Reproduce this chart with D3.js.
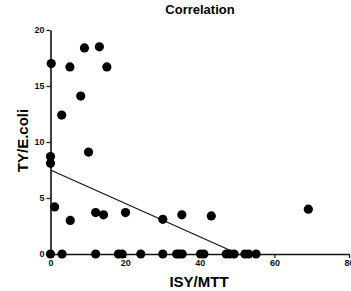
<!DOCTYPE html>
<html>
<head>
<meta charset="utf-8">
<script src="https://cdn.jsdelivr.net/npm/d3@7"></script>
<style>
  body { margin: 0; background: #fff; }
  svg text { font-family: "Liberation Sans", Arial, sans-serif; font-weight: bold; }
</style>
</head>
<body>
<div id="chart"></div>
<script>
// points (ISY/MTT vs TY/E.coli)
const xValues = [0.2, 5.2, 9.1, 13.1, 15.1, 8.1, 3.0, 0, 0, 10.2, 1.1, 5.3, 12.1, 14.2, 20.1, 30.1, 35.2, 43.1, 69.1,
                 0, 3.1, 12.1, 18.2, 19.2, 24.2, 30.1, 33.8, 34.5, 35.3, 40.2, 41.1, 47.1, 48.1, 49.2, 52.1, 53.1, 55.1];
const yValues = [17.0, 16.7, 18.4, 18.5, 16.7, 14.1, 12.4, 8.7, 8.1, 9.1, 4.2, 3.0, 3.7, 3.5, 3.7, 3.1, 3.5, 3.4, 4.0,
                 0, 0, 0, 0, 0, 0, 0, 0, 0, 0, 0, 0, 0, 0, 0, 0, 0, 0];
const xTicks = [0, 20, 40, 60, 80];
const yTicks = [0, 5, 10, 15, 20];
const fitIntercept = 7.5;
const fitSlope = -0.149;

const width = 351, height = 291;
const svg = d3.select('#chart').append('svg')
  .attr('width', width)
  .attr('height', height);

const x = d3.scaleLinear().domain([0, 80]).range([50.5, 349]);
const y = d3.scaleLinear().domain([0, 20]).range([254, 30]);

// regression line, stops where it hits y = 0
const xEnd = -fitIntercept / fitSlope;
svg.append('line')
  .attr('x1', x(0)).attr('y1', y(fitIntercept))
  .attr('x2', x(xEnd)).attr('y2', y(fitIntercept + fitSlope * xEnd))
  .attr('stroke', '#111')
  .attr('stroke-width', 1.2);

const xAxis = svg.append('g')
  .attr('transform', `translate(0,${y(0)})`)
  .call(d3.axisBottom(x).tickValues(xTicks).tickSize(4).tickPadding(2).tickSizeOuter(0));
const yAxis = svg.append('g')
  .attr('transform', `translate(${x(0)},0)`)
  .call(d3.axisLeft(y).tickValues(yTicks).tickSize(4).tickPadding(2).tickSizeOuter(0));

[xAxis, yAxis].forEach(g => {
  g.select('.domain').attr('stroke', '#111').attr('stroke-width', 1.6);
  g.selectAll('.tick line').attr('stroke', '#111').attr('stroke-width', 1.2);
  g.selectAll('.tick text')
    .attr('fill', '#111')
    .style('font-size', '9px')
    .style('font-family', '"Liberation Sans", Arial, sans-serif')
    .style('font-weight', 'bold');
});

const points = xValues.map((v, i) => ({ x: v, y: yValues[i] }));
svg.append('g')
  .selectAll('circle')
  .data(points)
  .enter().append('circle')
  .attr('cx', d => x(d.x))
  .attr('cy', d => y(d.y))
  .attr('r', 4.6)
  .attr('fill', '#000');

svg.append('text')
  .attr('x', 200).attr('y', 13.5)
  .attr('text-anchor', 'middle')
  .style('font-size', '13px')
  .text('Correlation');

svg.append('text')
  .attr('x', 199).attr('y', 287)
  .attr('text-anchor', 'middle')
  .style('font-size', '15px')
  .text('ISY/MTT');

svg.append('text')
  .attr('transform', 'translate(27.5,140.5) rotate(-90)')
  .attr('text-anchor', 'middle')
  .style('font-size', '15px')
  .text('TY/E.coli');
</script>
</body>
</html>
